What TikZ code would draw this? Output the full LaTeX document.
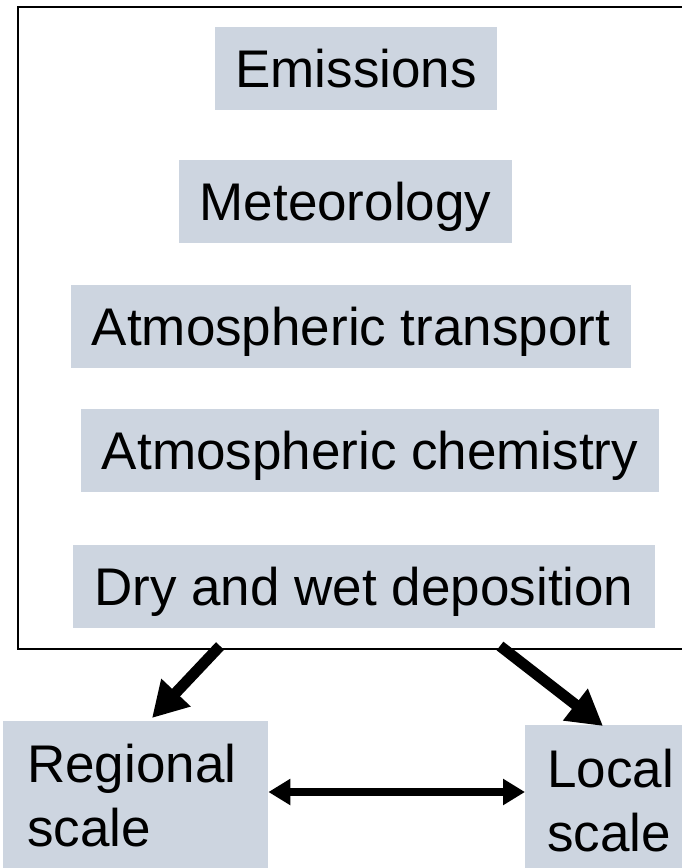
\documentclass[tikz,border=0pt]{standalone}
\usepackage{fontspec}
\setmainfont{Liberation Sans}
\usetikzlibrary{arrows.meta}
\definecolor{boxgray}{RGB}{205,213,224}
\tikzset{
  box/.style={fill=boxgray, inner sep=0pt, minimum height=83pt,
    text height=44pt, text depth=6pt, font=\fontsize{53}{64}\selectfont},
  scalebox/.style={fill=boxgray, anchor=north west, align=left,
    inner xsep=24pt, inner ysep=23pt, font=\fontsize{53}{64}\selectfont},
  fat/.style={line width=11pt, -{Triangle[length=35pt,width=38pt]}},
  twoway/.style={line width=8pt, {Triangle[length=22pt,width=25pt]}-{Triangle[length=22pt,width=25pt]}}
}
\begin{document}
\begin{tikzpicture}[x=1pt,y=-1pt]
    \useasboundingbox (0,0) rectangle (682,868);
    \clip (0,0) rectangle (682,868);

    % model frame
    \draw[line width=1.5pt] (18,7) rectangle (700,649);

    \node (emis) at (356,68) [box, minimum width=282pt]{Emissions};
    \node (meteo) at (345.5,201.5) [box, minimum width=333pt]{Meteorology};
    \node (trans) at (351,326) [box, minimum width=560pt]{Atmospheric transport};
    \node (chem) at (370,450.5) [box, minimum width=578pt]{Atmospheric chemistry};
    \node (depo) at (364,586) [box, minimum width=582pt]{Dry and wet deposition};

    % scales
    \node (regional) at (3,721) [scalebox, text width=217pt]{Regional\\scale};
    \node (local) at (525,725) [scalebox, inner xsep=22pt, inner ysep=24pt, text width=160pt]{Local\\scale};

    \coordinate (lfoot) at (220,646);
    \coordinate (ltip) at (152,718);
    \coordinate (rfoot) at (500,646);
    \coordinate (rtip) at (603,726);
    \coordinate (midrow) at (400,792);

     \draw[fat] (lfoot) -- (ltip);
     \draw[fat] (rfoot) -- (rtip);
     \draw[twoway] (regional.east |- midrow) -- (local.west |- midrow);
\end{tikzpicture}
\end{document}
